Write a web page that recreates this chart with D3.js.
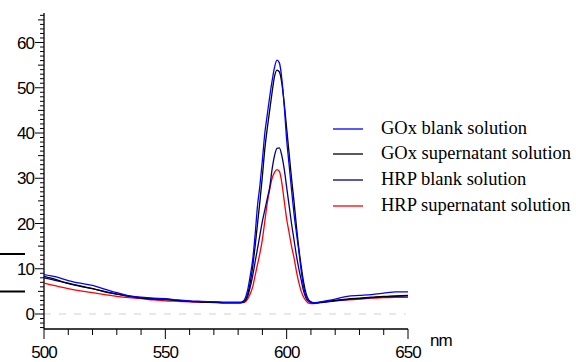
<!DOCTYPE html>
<html>
<head>
<meta charset="utf-8">
<script src="https://cdn.jsdelivr.net/npm/d3@7"></script>
<style>
  html, body { margin: 0; padding: 0; background: #fff; }
  svg { display: block; }
  .ax text { font-family: "Liberation Sans", Arial, sans-serif; font-size: 17px; letter-spacing: -1px; fill: #000; }
  .lg text { font-family: "Liberation Serif", "Times New Roman", serif; font-size: 18.5px; fill: #000; }
</style>
</head>
<body>
<svg id="chart" width="576" height="362"></svg>
<script>
// wavelength grid (nm), shared by all series
const wavelengths = [
  500, 505, 510, 515, 520, 525, 530, 535, 540, 545, 550, 555, 560, 565, 570, 575, 580,
  581, 582, 583, 584, 585, 586, 587, 588, 589, 590, 591, 592, 593, 594, 595, 596, 597, 598, 599,
  600, 601, 602, 603, 604, 605, 606, 607, 608, 609, 610, 611, 612,
  615, 620, 625, 630, 635, 640, 645, 650
];

const goxBlank = [
  8.7, 8.2, 7.4, 6.8, 6.3, 5.5, 4.7, 4.0, 3.7, 3.5, 3.4, 3.1, 2.9, 2.8, 2.7, 2.6, 2.6,
  2.6, 2.8, 3.6, 5.5, 8.5, 12, 17.5, 24, 28.5, 34, 40, 44, 48, 51.5, 54.5, 56.1, 55.5, 52, 46,
  38.5, 33, 27.5, 22.3, 18, 14, 9.5, 6, 3.8, 2.9, 2.6, 2.5, 2.5,
  2.8, 3.3, 3.9, 4.1, 4.3, 4.6, 4.9, 4.9
];

const goxSupernatant = [
  8.3, 7.6, 6.7, 6.1, 5.6, 4.9, 4.4, 3.9, 3.5, 3.3, 3.2, 3.0, 2.8, 2.7, 2.6, 2.5, 2.5,
  2.5, 2.6, 3.0, 4.5, 7, 10.5, 15, 20, 25, 30.5, 36.5, 41, 45, 49, 52.5, 53.9, 53.5, 51, 46.5,
  41, 35.5, 30, 25, 19.5, 14.5, 10.5, 7, 4.5, 3.2, 2.7, 2.5, 2.5,
  2.7, 3.0, 3.3, 3.5, 3.7, 3.9, 4.0, 4.1
];

const hrpBlank = [
  8.0, 7.4, 6.8, 6.2, 5.6, 5.0, 4.4, 4.0, 3.6, 3.4, 3.3, 3.0, 2.8, 2.7, 2.6, 2.5, 2.5,
  2.5, 2.6, 3.0, 4.0, 6, 8.5, 11.5, 14.5, 17.5, 20.5, 23, 25.5, 28, 32, 35, 36.6, 36.7, 35, 32,
  28, 24, 20, 16.5, 13, 10, 7.5, 5, 3.5, 2.8, 2.5, 2.4, 2.4,
  2.6, 2.9, 3.2, 3.4, 3.6, 3.8, 3.9, 4.0
];

const hrpSupernatant = [
  6.8, 6.2, 5.6, 5.1, 4.7, 4.3, 3.9, 3.6, 3.4, 3.1, 2.9, 2.8, 2.7, 2.6, 2.5, 2.4, 2.4,
  2.4, 2.5, 2.7, 3.4, 4.5, 6, 8.5, 11, 13.5, 16.5, 20.5, 24.5, 27.5, 30, 31.3, 31.9, 31.5, 29, 25,
  21, 18, 15, 12.5, 9.5, 7, 5, 3.7, 2.9, 2.4, 2.3, 2.3, 2.4,
  2.6, 2.9, 3.1, 3.3, 3.5, 3.6, 3.7, 3.7
];

const seriesNames = ['GOx blank solution', 'GOx supernatant solution', 'HRP blank solution', 'HRP supernatant solution'];
const seriesColors = ['#0000ff', '#000000', '#000080', '#ff0000'];
const seriesValues = [goxBlank, goxSupernatant, hrpBlank, hrpSupernatant];

const xTicks = [500, 550, 600, 650];
const yTicks = [0, 10, 20, 30, 40, 50, 60];

const svg = d3.select('#chart');

const x = d3.scaleLinear().domain([500, 650]).range([44, 408]);
const y = d3.scaleLinear().domain([0, 60]).range([314, 42.5]);
const yBottom = 329, yTop = 13;

// stray axis fragments at left edge
[254, 291.5].forEach(yy => {
  svg.append('line').attr('x1', 0).attr('x2', 25).attr('y1', yy).attr('y2', yy)
    .attr('stroke', '#000').attr('stroke-width', 2);
});

// zero reference line
svg.append('line')
  .attr('x1', x(500)).attr('x2', x(649))
  .attr('y1', y(0)).attr('y2', y(0))
  .attr('stroke', '#ccd3e0').attr('stroke-width', 1.2)
  .attr('stroke-dasharray', '7,8');

// y axis
const yAxis = svg.append('g').attr('class', 'ax');
yAxis.append('line').attr('x1', x(500)).attr('x2', x(500)).attr('y1', yTop).attr('y2', yBottom)
  .attr('stroke', '#000').attr('stroke-width', 1.3);
const yMin = Math.ceil(y.invert(yBottom)), yMax = Math.floor(y.invert(yTop));
d3.range(yMin, yMax + 1).forEach(v => {
  const len = v % 10 === 0 ? 9 : (v % 5 === 0 ? 6 : 4);
  yAxis.append('line').attr('x1', x(500) - len).attr('x2', x(500))
    .attr('y1', y(v)).attr('y2', y(v)).attr('stroke', '#000').attr('stroke-width', 1);
});
yAxis.selectAll('text.yl').data(yTicks).join('text')
  .attr('class', 'yl')
  .attr('x', 34).attr('y', d => y(d) + 6)
  .attr('text-anchor', 'end')
  .text(d => d);

// x axis
const xAxis = svg.append('g').attr('class', 'ax');
xAxis.append('line').attr('x1', x(500)).attr('x2', x(650)).attr('y1', yBottom).attr('y2', yBottom)
  .attr('stroke', '#000').attr('stroke-width', 1.3);
d3.range(500, 651, 10).forEach(v => {
  const len = v % 50 === 0 ? 10 : 6;
  xAxis.append('line').attr('x1', x(v)).attr('x2', x(v))
    .attr('y1', yBottom).attr('y2', yBottom + len).attr('stroke', '#000').attr('stroke-width', 1);
});
xAxis.selectAll('text.xl').data(xTicks).join('text')
  .attr('class', 'xl')
  .attr('x', d => x(d)).attr('y', 358)
  .attr('text-anchor', 'middle')
  .text(d => d);
xAxis.append('text').attr('x', 430).attr('y', 346).text('nm');

// spectra
const line = d3.line()
  .x((d, i) => x(wavelengths[i]))
  .y(d => y(d))
  .curve(d3.curveMonotoneX);

[3, 2, 1, 0].forEach(k => {
  svg.append('path')
    .datum(seriesValues[k])
    .attr('fill', 'none')
    .attr('stroke', seriesColors[k])
    .attr('stroke-width', 1.3)
    .attr('d', line);
});

// legend
const lg = svg.append('g').attr('class', 'lg');
const legendY = [129, 154, 180, 206];
seriesNames.forEach((name, k) => {
  lg.append('line').attr('x1', 333).attr('x2', 363)
    .attr('y1', legendY[k]).attr('y2', legendY[k])
    .attr('stroke', seriesColors[k]).attr('stroke-width', 1.3);
  lg.append('text').attr('x', 381).attr('y', legendY[k] + 5).text(name);
});
</script>
</body>
</html>
